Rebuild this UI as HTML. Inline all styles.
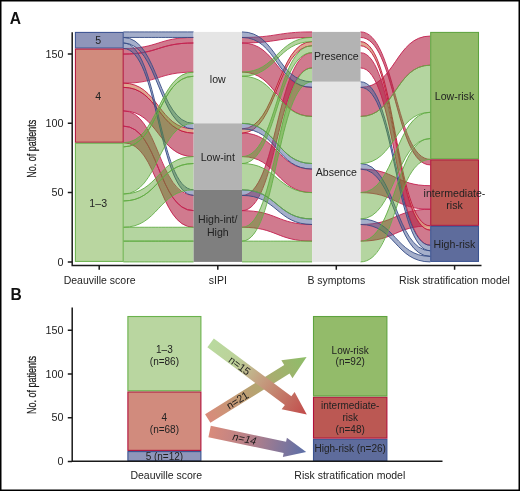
<!DOCTYPE html>
<html><head><meta charset="utf-8"><style>
html,body{margin:0;padding:0;background:#fff;}
body{width:520px;height:491px;overflow:hidden;position:relative;}
svg{position:absolute;left:0;top:0;will-change:transform;}
text{font-family:"Liberation Sans",sans-serif;}
</style></head><body>
<svg width="520" height="491" viewBox="0 0 520 491">
<rect x="0" y="0" width="520" height="491" fill="#fff"/>
<g font-size="10.6" fill="#222">
<path d="M123.40,48.53 C158.50,48.53 158.50,37.45 193.60,37.45 L193.60,42.99 C158.50,42.99 158.50,54.07 123.40,54.07 Z" fill="#b12143" fill-opacity="0.6"/>
<path d="M123.40,48.53 C158.50,48.53 158.50,37.45 193.60,37.45 M193.60,42.99 C158.50,42.99 158.50,54.07 123.40,54.07" fill="none" stroke="#c42150" stroke-width="0.9"/>
<path d="M242.00,37.45 C277.05,37.45 277.05,31.91 312.10,31.91 L312.10,37.45 C277.05,37.45 277.05,42.99 242.00,42.99 Z" fill="#b12143" fill-opacity="0.6"/>
<path d="M242.00,37.45 C277.05,37.45 277.05,31.91 312.10,31.91 M312.10,37.45 C277.05,37.45 277.05,42.99 242.00,42.99" fill="none" stroke="#c42150" stroke-width="0.9"/>
<path d="M360.50,31.91 C395.40,31.91 395.40,159.37 430.30,159.37 L430.30,164.91 C395.40,164.91 395.40,37.45 360.50,37.45 Z" fill="#b12143" fill-opacity="0.6"/>
<path d="M360.50,31.91 C395.40,31.91 395.40,159.37 430.30,159.37 M430.30,164.91 C395.40,164.91 395.40,37.45 360.50,37.45" fill="none" stroke="#c42150" stroke-width="0.9"/>
<path d="M123.40,54.07 C158.50,54.07 158.50,42.99 193.60,42.99 L193.60,72.09 C158.50,72.09 158.50,83.17 123.40,83.17 Z" fill="#b12143" fill-opacity="0.6"/>
<path d="M123.40,54.07 C158.50,54.07 158.50,42.99 193.60,42.99 M193.60,72.09 C158.50,72.09 158.50,83.17 123.40,83.17" fill="none" stroke="#c42150" stroke-width="0.9"/>
<path d="M242.00,42.99 C277.05,42.99 277.05,87.33 312.10,87.33 L312.10,116.42 C277.05,116.42 277.05,72.09 242.00,72.09 Z" fill="#b12143" fill-opacity="0.6"/>
<path d="M242.00,42.99 C277.05,42.99 277.05,87.33 312.10,87.33 M312.10,116.42 C277.05,116.42 277.05,72.09 242.00,72.09" fill="none" stroke="#c42150" stroke-width="0.9"/>
<path d="M360.50,87.33 C395.40,87.33 395.40,36.06 430.30,36.06 L430.30,65.16 C395.40,65.16 395.40,116.42 360.50,116.42 Z" fill="#b12143" fill-opacity="0.6"/>
<path d="M360.50,87.33 C395.40,87.33 395.40,36.06 430.30,36.06 M430.30,65.16 C395.40,65.16 395.40,116.42 360.50,116.42" fill="none" stroke="#c42150" stroke-width="0.9"/>
<path d="M123.40,87.33 C158.50,87.33 158.50,133.05 193.60,133.05 L193.60,156.60 C158.50,156.60 158.50,110.88 123.40,110.88 Z" fill="#b12143" fill-opacity="0.6"/>
<path d="M123.40,87.33 C158.50,87.33 158.50,133.05 193.60,133.05 M193.60,156.60 C158.50,156.60 158.50,110.88 123.40,110.88" fill="none" stroke="#c42150" stroke-width="0.9"/>
<path d="M242.00,133.05 C277.05,133.05 277.05,169.07 312.10,169.07 L312.10,192.62 C277.05,192.62 277.05,156.60 242.00,156.60 Z" fill="#b12143" fill-opacity="0.6"/>
<path d="M242.00,133.05 C277.05,133.05 277.05,169.07 312.10,169.07 M312.10,192.62 C277.05,192.62 277.05,156.60 242.00,156.60" fill="none" stroke="#c42150" stroke-width="0.9"/>
<path d="M360.50,169.07 C395.40,169.07 395.40,185.70 430.30,185.70 L430.30,209.25 C395.40,209.25 395.40,192.62 360.50,192.62 Z" fill="#b12143" fill-opacity="0.6"/>
<path d="M360.50,169.07 C395.40,169.07 395.40,185.70 430.30,185.70 M430.30,209.25 C395.40,209.25 395.40,192.62 360.50,192.62" fill="none" stroke="#c42150" stroke-width="0.9"/>
<path d="M123.40,110.88 C158.50,110.88 158.50,195.40 193.60,195.40 L193.60,210.64 C158.50,210.64 158.50,126.12 123.40,126.12 Z" fill="#b12143" fill-opacity="0.6"/>
<path d="M123.40,110.88 C158.50,110.88 158.50,195.40 193.60,195.40 M193.60,210.64 C158.50,210.64 158.50,126.12 123.40,126.12" fill="none" stroke="#c42150" stroke-width="0.9"/>
<path d="M242.00,195.40 C277.05,195.40 277.05,52.69 312.10,52.69 L312.10,67.93 C277.05,67.93 277.05,210.64 242.00,210.64 Z" fill="#b12143" fill-opacity="0.6"/>
<path d="M242.00,195.40 C277.05,195.40 277.05,52.69 312.10,52.69 M312.10,67.93 C277.05,67.93 277.05,210.64 242.00,210.64" fill="none" stroke="#c42150" stroke-width="0.9"/>
<path d="M360.50,52.69 C395.40,52.69 395.40,230.03 430.30,230.03 L430.30,245.27 C395.40,245.27 395.40,67.93 360.50,67.93 Z" fill="#b12143" fill-opacity="0.6"/>
<path d="M360.50,52.69 C395.40,52.69 395.40,230.03 430.30,230.03 M430.30,245.27 C395.40,245.27 395.40,67.93 360.50,67.93" fill="none" stroke="#c42150" stroke-width="0.9"/>
<path d="M123.40,126.12 C158.50,126.12 158.50,210.64 193.60,210.64 L193.60,227.26 C158.50,227.26 158.50,142.75 123.40,142.75 Z" fill="#b12143" fill-opacity="0.6"/>
<path d="M123.40,126.12 C158.50,126.12 158.50,210.64 193.60,210.64 M193.60,227.26 C158.50,227.26 158.50,142.75 123.40,142.75" fill="none" stroke="#c42150" stroke-width="0.9"/>
<path d="M242.00,210.64 C277.05,210.64 277.05,224.49 312.10,224.49 L312.10,241.12 C277.05,241.12 277.05,227.26 242.00,227.26 Z" fill="#b12143" fill-opacity="0.6"/>
<path d="M242.00,210.64 C277.05,210.64 277.05,224.49 312.10,224.49 M312.10,241.12 C277.05,241.12 277.05,227.26 242.00,227.26" fill="none" stroke="#c42150" stroke-width="0.9"/>
<path d="M360.50,224.49 C395.40,224.49 395.40,209.25 430.30,209.25 L430.30,225.88 C395.40,225.88 395.40,241.12 360.50,241.12 Z" fill="#b12143" fill-opacity="0.6"/>
<path d="M360.50,224.49 C395.40,224.49 395.40,209.25 430.30,209.25 M430.30,225.88 C395.40,225.88 395.40,241.12 360.50,241.12" fill="none" stroke="#c42150" stroke-width="0.9"/>
<path d="M123.40,83.17 C158.50,83.17 158.50,128.89 193.60,128.89 L193.60,133.05 C158.50,133.05 158.50,87.33 123.40,87.33 Z" fill="#d9977c" fill-opacity="0.85"/>
<path d="M123.40,83.17 C158.50,83.17 158.50,128.89 193.60,128.89 M193.60,133.05 C158.50,133.05 158.50,87.33 123.40,87.33" fill="none" stroke="#c0143c" stroke-width="0.9"/>
<path d="M242.00,128.89 C277.05,128.89 277.05,41.61 312.10,41.61 L312.10,45.76 C277.05,45.76 277.05,133.05 242.00,133.05 Z" fill="#d9977c" fill-opacity="0.85"/>
<path d="M242.00,128.89 C277.05,128.89 277.05,41.61 312.10,41.61 M312.10,45.76 C277.05,45.76 277.05,133.05 242.00,133.05" fill="none" stroke="#c0143c" stroke-width="0.9"/>
<path d="M360.50,41.61 C395.40,41.61 395.40,225.88 430.30,225.88 L430.30,230.03 C395.40,230.03 395.40,45.76 360.50,45.76 Z" fill="#d9977c" fill-opacity="0.85"/>
<path d="M360.50,41.61 C395.40,41.61 395.40,225.88 430.30,225.88 M430.30,230.03 C395.40,230.03 395.40,45.76 360.50,45.76" fill="none" stroke="#c0143c" stroke-width="0.9"/>
<path d="M123.40,31.91 C158.50,31.91 158.50,31.91 193.60,31.91 L193.60,37.45 C158.50,37.45 158.50,37.45 123.40,37.45 Z" fill="#4b5f97" fill-opacity="0.5"/>
<path d="M123.40,31.91 C158.50,31.91 158.50,31.91 193.60,31.91 M193.60,37.45 C158.50,37.45 158.50,37.45 123.40,37.45" fill="none" stroke="#364c86" stroke-width="0.9"/>
<path d="M242.00,31.91 C277.05,31.91 277.05,81.78 312.10,81.78 L312.10,87.33 C277.05,87.33 277.05,37.45 242.00,37.45 Z" fill="#4b5f97" fill-opacity="0.5"/>
<path d="M242.00,31.91 C277.05,31.91 277.05,81.78 312.10,81.78 M312.10,87.33 C277.05,87.33 277.05,37.45 242.00,37.45" fill="none" stroke="#364c86" stroke-width="0.9"/>
<path d="M360.50,81.78 C395.40,81.78 395.40,245.27 430.30,245.27 L430.30,250.82 C395.40,250.82 395.40,87.33 360.50,87.33 Z" fill="#4b5f97" fill-opacity="0.5"/>
<path d="M360.50,81.78 C395.40,81.78 395.40,245.27 430.30,245.27 M430.30,250.82 C395.40,250.82 395.40,87.33 360.50,87.33" fill="none" stroke="#364c86" stroke-width="0.9"/>
<path d="M123.40,37.45 C158.50,37.45 158.50,123.35 193.60,123.35 L193.60,128.89 C158.50,128.89 158.50,42.99 123.40,42.99 Z" fill="#4b5f97" fill-opacity="0.5"/>
<path d="M123.40,37.45 C158.50,37.45 158.50,123.35 193.60,123.35 M193.60,128.89 C158.50,128.89 158.50,42.99 123.40,42.99" fill="none" stroke="#364c86" stroke-width="0.9"/>
<path d="M242.00,123.35 C277.05,123.35 277.05,163.53 312.10,163.53 L312.10,169.07 C277.05,169.07 277.05,128.89 242.00,128.89 Z" fill="#4b5f97" fill-opacity="0.5"/>
<path d="M242.00,123.35 C277.05,123.35 277.05,163.53 312.10,163.53 M312.10,169.07 C277.05,169.07 277.05,128.89 242.00,128.89" fill="none" stroke="#364c86" stroke-width="0.9"/>
<path d="M360.50,163.53 C395.40,163.53 395.40,250.82 430.30,250.82 L430.30,256.36 C395.40,256.36 395.40,169.07 360.50,169.07 Z" fill="#4b5f97" fill-opacity="0.5"/>
<path d="M360.50,163.53 C395.40,163.53 395.40,250.82 430.30,250.82 M430.30,256.36 C395.40,256.36 395.40,169.07 360.50,169.07" fill="none" stroke="#364c86" stroke-width="0.9"/>
<path d="M123.40,42.99 C158.50,42.99 158.50,189.85 193.60,189.85 L193.60,195.40 C158.50,195.40 158.50,48.53 123.40,48.53 Z" fill="#4b5f97" fill-opacity="0.5"/>
<path d="M123.40,42.99 C158.50,42.99 158.50,189.85 193.60,189.85 M193.60,195.40 C158.50,195.40 158.50,48.53 123.40,48.53" fill="none" stroke="#364c86" stroke-width="0.9"/>
<path d="M242.00,189.85 C277.05,189.85 277.05,218.95 312.10,218.95 L312.10,224.49 C277.05,224.49 277.05,195.40 242.00,195.40 Z" fill="#4b5f97" fill-opacity="0.5"/>
<path d="M242.00,189.85 C277.05,189.85 277.05,218.95 312.10,218.95 M312.10,224.49 C277.05,224.49 277.05,195.40 242.00,195.40" fill="none" stroke="#364c86" stroke-width="0.9"/>
<path d="M360.50,218.95 C395.40,218.95 395.40,256.36 430.30,256.36 L430.30,261.90 C395.40,261.90 395.40,224.49 360.50,224.49 Z" fill="#4b5f97" fill-opacity="0.5"/>
<path d="M360.50,218.95 C395.40,218.95 395.40,256.36 430.30,256.36 M430.30,261.90 C395.40,261.90 395.40,224.49 360.50,224.49" fill="none" stroke="#364c86" stroke-width="0.9"/>
<path d="M123.40,142.75 C158.50,142.75 158.50,72.09 193.60,72.09 L193.60,76.24 C158.50,76.24 158.50,146.90 123.40,146.90 Z" fill="#58a22c" fill-opacity="0.45"/>
<path d="M123.40,142.75 C158.50,142.75 158.50,72.09 193.60,72.09 M193.60,76.24 C158.50,76.24 158.50,146.90 123.40,146.90" fill="none" stroke="#62ad45" stroke-width="0.9"/>
<path d="M242.00,72.09 C277.05,72.09 277.05,37.45 312.10,37.45 L312.10,41.61 C277.05,41.61 277.05,76.24 242.00,76.24 Z" fill="#58a22c" fill-opacity="0.45"/>
<path d="M242.00,72.09 C277.05,72.09 277.05,37.45 312.10,37.45 M312.10,41.61 C277.05,41.61 277.05,76.24 242.00,76.24" fill="none" stroke="#62ad45" stroke-width="0.9"/>
<path d="M123.40,146.90 C158.50,146.90 158.50,76.24 193.60,76.24 L193.60,123.35 C158.50,123.35 158.50,194.01 123.40,194.01 Z" fill="#58a22c" fill-opacity="0.45"/>
<path d="M123.40,146.90 C158.50,146.90 158.50,76.24 193.60,76.24 M193.60,123.35 C158.50,123.35 158.50,194.01 123.40,194.01" fill="none" stroke="#62ad45" stroke-width="0.9"/>
<path d="M242.00,76.24 C277.05,76.24 277.05,116.42 312.10,116.42 L312.10,163.53 C277.05,163.53 277.05,123.35 242.00,123.35 Z" fill="#58a22c" fill-opacity="0.45"/>
<path d="M242.00,76.24 C277.05,76.24 277.05,116.42 312.10,116.42 M312.10,163.53 C277.05,163.53 277.05,123.35 242.00,123.35" fill="none" stroke="#62ad45" stroke-width="0.9"/>
<path d="M360.50,116.42 C395.40,116.42 395.40,65.16 430.30,65.16 L430.30,112.27 C395.40,112.27 395.40,163.53 360.50,163.53 Z" fill="#58a22c" fill-opacity="0.45"/>
<path d="M360.50,116.42 C395.40,116.42 395.40,65.16 430.30,65.16 M430.30,112.27 C395.40,112.27 395.40,163.53 360.50,163.53" fill="none" stroke="#62ad45" stroke-width="0.9"/>
<path d="M123.40,194.01 C158.50,194.01 158.50,156.60 193.60,156.60 L193.60,163.53 C158.50,163.53 158.50,200.94 123.40,200.94 Z" fill="#58a22c" fill-opacity="0.45"/>
<path d="M123.40,194.01 C158.50,194.01 158.50,156.60 193.60,156.60 M193.60,163.53 C158.50,163.53 158.50,200.94 123.40,200.94" fill="none" stroke="#62ad45" stroke-width="0.9"/>
<path d="M242.00,156.60 C277.05,156.60 277.05,45.76 312.10,45.76 L312.10,52.69 C277.05,52.69 277.05,163.53 242.00,163.53 Z" fill="#58a22c" fill-opacity="0.45"/>
<path d="M242.00,156.60 C277.05,156.60 277.05,45.76 312.10,45.76 M312.10,52.69 C277.05,52.69 277.05,163.53 242.00,163.53" fill="none" stroke="#62ad45" stroke-width="0.9"/>
<path d="M123.40,200.94 C158.50,200.94 158.50,163.53 193.60,163.53 L193.60,189.85 C158.50,189.85 158.50,227.26 123.40,227.26 Z" fill="#58a22c" fill-opacity="0.45"/>
<path d="M123.40,200.94 C158.50,200.94 158.50,163.53 193.60,163.53 M193.60,189.85 C158.50,189.85 158.50,227.26 123.40,227.26" fill="none" stroke="#62ad45" stroke-width="0.9"/>
<path d="M242.00,163.53 C277.05,163.53 277.05,192.62 312.10,192.62 L312.10,218.95 C277.05,218.95 277.05,189.85 242.00,189.85 Z" fill="#58a22c" fill-opacity="0.45"/>
<path d="M242.00,163.53 C277.05,163.53 277.05,192.62 312.10,192.62 M312.10,218.95 C277.05,218.95 277.05,189.85 242.00,189.85" fill="none" stroke="#62ad45" stroke-width="0.9"/>
<path d="M360.50,192.62 C395.40,192.62 395.40,112.27 430.30,112.27 L430.30,138.59 C395.40,138.59 395.40,218.95 360.50,218.95 Z" fill="#58a22c" fill-opacity="0.45"/>
<path d="M360.50,192.62 C395.40,192.62 395.40,112.27 430.30,112.27 M430.30,138.59 C395.40,138.59 395.40,218.95 360.50,218.95" fill="none" stroke="#62ad45" stroke-width="0.9"/>
<path d="M123.40,227.26 C158.50,227.26 158.50,227.26 193.60,227.26 L193.60,241.12 C158.50,241.12 158.50,241.12 123.40,241.12 Z" fill="#58a22c" fill-opacity="0.45"/>
<path d="M123.40,227.26 C158.50,227.26 158.50,227.26 193.60,227.26 M193.60,241.12 C158.50,241.12 158.50,241.12 123.40,241.12" fill="none" stroke="#62ad45" stroke-width="0.9"/>
<path d="M242.00,227.26 C277.05,227.26 277.05,67.93 312.10,67.93 L312.10,81.78 C277.05,81.78 277.05,241.12 242.00,241.12 Z" fill="#58a22c" fill-opacity="0.45"/>
<path d="M242.00,227.26 C277.05,227.26 277.05,67.93 312.10,67.93 M312.10,81.78 C277.05,81.78 277.05,241.12 242.00,241.12" fill="none" stroke="#62ad45" stroke-width="0.9"/>
<path d="M123.40,241.12 C158.50,241.12 158.50,241.12 193.60,241.12 L193.60,261.90 C158.50,261.90 158.50,261.90 123.40,261.90 Z" fill="#58a22c" fill-opacity="0.45"/>
<path d="M123.40,241.12 C158.50,241.12 158.50,241.12 193.60,241.12 M193.60,261.90 C158.50,261.90 158.50,261.90 123.40,261.90" fill="none" stroke="#62ad45" stroke-width="0.9"/>
<path d="M242.00,241.12 C277.05,241.12 277.05,241.12 312.10,241.12 L312.10,261.90 C277.05,261.90 277.05,261.90 242.00,261.90 Z" fill="#58a22c" fill-opacity="0.45"/>
<path d="M242.00,241.12 C277.05,241.12 277.05,241.12 312.10,241.12 M312.10,261.90 C277.05,261.90 277.05,261.90 242.00,261.90" fill="none" stroke="#62ad45" stroke-width="0.9"/>
<path d="M360.50,241.12 C395.40,241.12 395.40,138.59 430.30,138.59 L430.30,159.37 C395.40,159.37 395.40,261.90 360.50,261.90 Z" fill="#58a22c" fill-opacity="0.45"/>
<path d="M360.50,241.12 C395.40,241.12 395.40,138.59 430.30,138.59 M430.30,159.37 C395.40,159.37 395.40,261.90 360.50,261.90" fill="none" stroke="#62ad45" stroke-width="0.9"/>
<rect x="75.40" y="32.41" width="47.80" height="15.63" fill="#8f96ba" stroke="#3a5290" stroke-width="1.05"/>
<rect x="75.40" y="49.03" width="47.80" height="93.21" fill="#d18b7d" stroke="#b0103a" stroke-width="1.05"/>
<rect x="75.40" y="143.25" width="47.80" height="118.15" fill="#b9d6a0" stroke="#6ab24c" stroke-width="1.05"/>
<rect x="193.60" y="31.91" width="48.4" height="91.44" fill="#e5e5e5"/>
<rect x="193.60" y="123.35" width="48.4" height="66.50" fill="#b3b3b3"/>
<rect x="193.60" y="189.85" width="48.4" height="72.05" fill="#7f7f7f"/>
<rect x="312.10" y="31.91" width="48.4" height="49.88" fill="#b3b3b3"/>
<rect x="312.10" y="81.78" width="48.4" height="180.11" fill="#e5e5e5"/>
<rect x="430.70" y="32.41" width="47.80" height="126.47" fill="#93bb6a" stroke="#5ea33e" stroke-width="1.05"/>
<rect x="430.70" y="159.87" width="47.80" height="65.50" fill="#bb5853" stroke="#b0103a" stroke-width="1.05"/>
<rect x="430.70" y="226.38" width="47.80" height="35.02" fill="#5e6c9c" stroke="#3a5290" stroke-width="1.05"/>
<text x="98.20" y="43.75" text-anchor="middle">5</text>
<text x="98.20" y="100.00" text-anchor="middle">4</text>
<text x="98.20" y="206.50" text-anchor="middle">1–3</text>
<text x="217.80" y="83.30" text-anchor="middle">low</text>
<text x="217.80" y="161.00" text-anchor="middle">Low-int</text>
<text x="217.80" y="222.50" text-anchor="middle">High-int/</text>
<text x="217.80" y="235.70" text-anchor="middle">High</text>
<text x="336.30" y="60.30" text-anchor="middle">Presence</text>
<text x="336.30" y="175.70" text-anchor="middle">Absence</text>
<text x="454.50" y="100.40" text-anchor="middle">Low-risk</text>
<text x="454.50" y="196.80" text-anchor="middle">intermediate-</text>
<text x="454.50" y="209.30" text-anchor="middle">risk</text>
<text x="454.50" y="248.30" text-anchor="middle">High-risk</text>
</g>
<!-- axes A -->
<g stroke="#1a1a1a" stroke-width="1.5" fill="none">
<path d="M72.2,32.2 V265.4 H481.5"/>
<path d="M67.8,54.1 H72 M67.8,123.35 H72 M67.8,192.6 H72 M67.8,261.9 H72"/>
<path d="M99.2,265.4 V269.7 M217.8,265.4 V269.7 M336.3,265.4 V269.7 M454.6,265.4 V269.7"/>
</g>
<g font-size="10.8" fill="#222" text-anchor="end">
<text x="63.6" y="57.9">150</text><text x="63.6" y="127.2">100</text><text x="63.6" y="196.4">50</text><text x="63.6" y="265.7">0</text>
</g>
<g font-size="10.5" fill="#222" text-anchor="middle">
<text x="99.6" y="283.7">Deauville score</text>
<text x="217.8" y="283.7">sIPI</text>
<text x="336.3" y="283.7">B symptoms</text>
<text x="454.5" y="283.7">Risk stratification model</text>
</g>
<text x="0" y="0" font-size="13" fill="#1a1a1a" text-anchor="middle" transform="translate(36.3,148.75) rotate(-90) scale(0.69,1)" stroke="#1a1a1a" stroke-width="0.25">No. of patients</text>
<defs>
<linearGradient id="g15" gradientUnits="userSpaceOnUse" x1="209.6" y1="343.6" x2="306.6" y2="414.9"><stop offset="0" stop-color="#b9da9f"/><stop offset="0.27" stop-color="#bdd199"/><stop offset="0.5" stop-color="#c4a383"/><stop offset="1" stop-color="#c24a4a"/></linearGradient>
<linearGradient id="g21" gradientUnits="userSpaceOnUse" x1="207.75" y1="418.5" x2="306.6" y2="357"><stop offset="0" stop-color="#d98b7b"/><stop offset="0.5" stop-color="#b4a571"/><stop offset="1" stop-color="#8dbe69"/></linearGradient>
<linearGradient id="g14" gradientUnits="userSpaceOnUse" x1="209.6" y1="431.55" x2="306.2" y2="451.9"><stop offset="0" stop-color="#d98b7b"/><stop offset="0.45" stop-color="#b27f8a"/><stop offset="1" stop-color="#5b6fa8"/></linearGradient>
</defs>
<rect x="127.90" y="451.58" width="73.00" height="9.32" fill="#8f96ba" stroke="#3a5290" stroke-width="1.1"/>
<rect x="127.90" y="391.94" width="73.00" height="58.44" fill="#d18b7d" stroke="#b0103a" stroke-width="1.1"/>
<rect x="127.90" y="316.52" width="73.00" height="74.22" fill="#b9d6a0" stroke="#6ab24c" stroke-width="1.1"/>
<rect x="313.50" y="439.30" width="73.40" height="21.60" fill="#5e6c9c" stroke="#3a5290" stroke-width="1.1"/>
<rect x="313.50" y="397.20" width="73.40" height="40.90" fill="#bb5853" stroke="#b0103a" stroke-width="1.1"/>
<rect x="313.50" y="316.52" width="73.40" height="79.48" fill="#93bb6a" stroke="#5ea33e" stroke-width="1.1"/>
<polygon points="210.42,422.79 289.57,373.54 292.47,378.21 306.60,357.00 281.33,360.30 284.23,364.97 205.08,414.21" fill="url(#g21)"/>
<polygon points="208.40,437.23 283.67,453.08 282.83,457.09 306.20,451.90 286.91,437.72 286.06,441.73 210.80,425.87" fill="url(#g14)"/>
<polygon points="207.37,347.13 284.89,404.91 281.63,409.28 306.80,414.50 294.60,391.88 291.35,396.25 213.83,338.47" fill="url(#g15)"/>
<g font-size="10.6" fill="#1a1a1a" text-anchor="middle">
<text transform="translate(239.6,365.6) rotate(36.3)" y="3.8">n=15</text>
<text transform="translate(237.4,400.2) rotate(-31.9)" y="3.8">n=21</text>
<text transform="translate(244.7,438.6) rotate(11.9) skewX(-10)" y="3.8">n=14</text>
</g>
<g font-size="10" fill="#222" text-anchor="middle"><text x="164.40" y="353.40">1–3</text><text x="164.40" y="365.30">(n=86)</text><text x="164.40" y="420.90">4</text><text x="164.40" y="433.30">(n=68)</text><text x="164.40" y="460.40">5 (n=12)</text><text x="350.20" y="353.80">Low-risk</text><text x="350.20" y="365.30">(n=92)</text><text x="350.20" y="408.80">intermediate-</text><text x="350.20" y="421.30">risk</text><text x="350.20" y="433.40">(n=48)</text><text x="350.20" y="452.10">High-risk (n=26)</text></g>
<g stroke="#1a1a1a" stroke-width="1.5" fill="none"><path d="M72.2,307.6 V461.3 H442.5"/><path d="M67.8,330.2 H72 M67.8,373.9 H72 M67.8,417.7 H72 M67.8,461.5 H72"/></g>
<g font-size="10.8" fill="#222" text-anchor="end"><text x="63.6" y="333.8">150</text><text x="63.6" y="377.5">100</text><text x="63.6" y="421.3">50</text><text x="63.6" y="465.1">0</text></g>
<g font-size="10.5" fill="#222" text-anchor="middle"><text x="166.3" y="478.7">Deauville score</text><text x="349.8" y="478.6">Risk stratification model</text></g>
<text x="0" y="0" font-size="13" fill="#1a1a1a" text-anchor="middle" transform="translate(36.3,385) rotate(-90) scale(0.69,1)" stroke="#1a1a1a" stroke-width="0.25">No. of patients</text>
<text x="9.8" y="23.5" font-size="15.6" font-weight="bold" fill="#111">A</text>
<text x="10.4" y="300" font-size="15.6" font-weight="bold" fill="#111">B</text>
<rect x="0.75" y="0.75" width="518.5" height="489.5" fill="none" stroke="#000" stroke-width="1.5"/>
</svg>
</body></html>
